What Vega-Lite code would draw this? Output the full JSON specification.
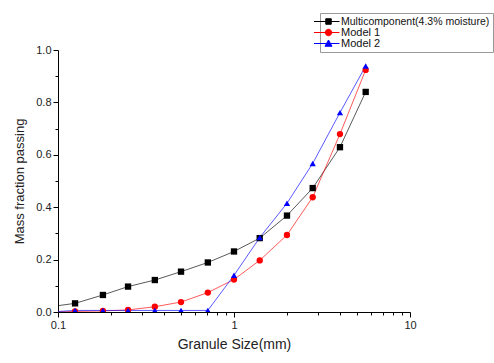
{
  "$schema": "https://vega.github.io/schema/vega-lite/v6.json",
  "width": 352,
  "height": 262,
  "autosize": "none",
  "padding": {"left": 58, "top": 50, "right": 84, "bottom": 51},
  "background": "white",
  "data": {
    "values": [
      {"series": "Multicomponent(4.3% moisture)", "size": 0.09, "frac": 0.02},
      {"series": "Multicomponent(4.3% moisture)", "size": 0.125, "frac": 0.033},
      {"series": "Multicomponent(4.3% moisture)", "size": 0.18, "frac": 0.065},
      {"series": "Multicomponent(4.3% moisture)", "size": 0.25, "frac": 0.097},
      {"series": "Multicomponent(4.3% moisture)", "size": 0.355, "frac": 0.122},
      {"series": "Multicomponent(4.3% moisture)", "size": 0.5, "frac": 0.154},
      {"series": "Multicomponent(4.3% moisture)", "size": 0.71, "frac": 0.189},
      {"series": "Multicomponent(4.3% moisture)", "size": 1.0, "frac": 0.231},
      {"series": "Multicomponent(4.3% moisture)", "size": 1.4, "frac": 0.282},
      {"series": "Multicomponent(4.3% moisture)", "size": 2.0, "frac": 0.368},
      {"series": "Multicomponent(4.3% moisture)", "size": 2.8, "frac": 0.473},
      {"series": "Multicomponent(4.3% moisture)", "size": 4.0, "frac": 0.629},
      {"series": "Multicomponent(4.3% moisture)", "size": 5.6, "frac": 0.84},
      {"series": "Model 1", "size": 0.09, "frac": 0.0},
      {"series": "Model 1", "size": 0.125, "frac": 0.002},
      {"series": "Model 1", "size": 0.18, "frac": 0.004},
      {"series": "Model 1", "size": 0.25, "frac": 0.008},
      {"series": "Model 1", "size": 0.355, "frac": 0.02},
      {"series": "Model 1", "size": 0.5, "frac": 0.038},
      {"series": "Model 1", "size": 0.71, "frac": 0.074},
      {"series": "Model 1", "size": 1.0, "frac": 0.124},
      {"series": "Model 1", "size": 1.4, "frac": 0.197},
      {"series": "Model 1", "size": 2.0, "frac": 0.294},
      {"series": "Model 1", "size": 2.8, "frac": 0.438},
      {"series": "Model 1", "size": 4.0, "frac": 0.679},
      {"series": "Model 1", "size": 5.6, "frac": 0.924},
      {"series": "Model 2", "size": 0.09, "frac": 0.0},
      {"series": "Model 2", "size": 0.125, "frac": 0.006},
      {"series": "Model 2", "size": 0.18, "frac": 0.006},
      {"series": "Model 2", "size": 0.25, "frac": 0.006},
      {"series": "Model 2", "size": 0.355, "frac": 0.006},
      {"series": "Model 2", "size": 0.5, "frac": 0.006},
      {"series": "Model 2", "size": 0.71, "frac": 0.006},
      {"series": "Model 2", "size": 1.0, "frac": 0.14},
      {"series": "Model 2", "size": 1.4, "frac": 0.284},
      {"series": "Model 2", "size": 2.0, "frac": 0.415},
      {"series": "Model 2", "size": 2.8, "frac": 0.567},
      {"series": "Model 2", "size": 4.0, "frac": 0.761},
      {"series": "Model 2", "size": 5.6, "frac": 0.939}
    ]
  },
  "encoding": {
    "x": {
      "field": "size",
      "type": "quantitative",
      "scale": {"type": "log", "domain": [0.1, 10], "nice": false},
      "axis": {
        "title": "Granule Size(mm)",
        "titleFontSize": 14,
        "titlePadding": 7,
        "values": [0.1, 0.2, 0.3, 0.4, 0.5, 0.6, 0.7, 0.8, 0.9, 1, 2, 3, 4, 5, 6, 7, 8, 9, 10],
        "labelExpr": "datum.value == 0.1 ? '0.1' : datum.value == 1 ? '1' : datum.value == 10 ? '10' : ''",
        "tickSize": {"condition": {"test": "datum.value == 0.1 || datum.value == 1 || datum.value == 10", "value": 5}, "value": 3},
        "labelPadding": 2
      }
    },
    "y": {
      "field": "frac",
      "type": "quantitative",
      "scale": {"domain": [0, 1], "nice": false, "zero": false},
      "axis": {
        "title": "Mass fraction passing",
        "titlePadding": 9,
        "values": [0, 0.1, 0.2, 0.3, 0.4, 0.5, 0.6, 0.7, 0.8, 0.9, 1],
        "labelExpr": "indexof([0, 0.2, 0.4, 0.6, 0.8, 1], datum.value) >= 0 ? format(datum.value, '.1f') : ''",
        "tickSize": {"condition": {"test": "indexof([0, 0.2, 0.4, 0.6, 0.8, 1], datum.value) >= 0", "value": 5}, "value": 3},
        "labelPadding": 2
      }
    }
  },
  "layer": [
    {
      "mark": {"type": "point", "filled": true, "opacity": 0, "clip": true},
      "encoding": {
        "shape": {
          "field": "series",
          "type": "nominal",
          "scale": {
            "domain": ["Multicomponent(4.3% moisture)", "Model 1", "Model 2"],
            "range": [
              "M-2.9,0H2.2M-0.55,-0.55H0.55V0.55H-0.55Z",
              "M-2.9,0H2.2M-0.65,0A0.65,0.65,0,1,0,0.65,0A0.65,0.65,0,1,0,-0.65,0Z",
              "M-2.9,0H2.2M0,-0.7L0.7,0.55L-0.7,0.55Z"
            ]
          },
          "legend": {
            "title": null,
            "orient": "none",
            "legendX": 262,
            "legendY": -37,
            "strokeColor": "#999999",
            "fillColor": "#ffffff",
            "padding": 3,
            "labelFontSize": {"expr": "datum.value == 'Multicomponent(4.3% moisture)' ? 10.5 : 11"},
            "encode": {
              "legend": {
                "stroke": {"value": "#999999"},
                "strokeWidth": {"value": 1},
                "fill": {"value": "#ffffff"}
              },
              "symbols": {
                "fill": {"condition": [{"test": "datum.value == 'Model 1'", "value": "#ff0000"}, {"test": "datum.value == 'Model 2'", "value": "#0000ff"}], "value": "#000000"},
                "stroke": {"condition": [{"test": "datum.value == 'Model 1'", "value": "#ff6666"}, {"test": "datum.value == 'Model 2'", "value": "#6666ff"}], "value": "#444444"},
                "strokeWidth": {"value": 1},
                "opacity": {"value": 1}
              }
            }
          }
        }
      }
    },
    {
      "mark": {"type": "line", "clip": true, "strokeWidth": 1, "opacity": 0.65},
      "encoding": {
        "color": {
          "field": "series",
          "type": "nominal",
          "scale": {"domain": ["Multicomponent(4.3% moisture)", "Model 1", "Model 2"], "range": ["#000000", "#ff0000", "#0000ff"]},
          "legend": null
        }
      }
    },
    {
      "transform": [{"filter": "datum.series == 'Multicomponent(4.3% moisture)'"}],
      "mark": {"type": "point", "clip": true, "filled": true, "opacity": 1, "size": 40, "shape": "square"},
      "encoding": {
        "color": {"field": "series", "type": "nominal", "legend": null}
      }
    },
    {
      "transform": [{"filter": "datum.series == 'Model 1'"}],
      "mark": {"type": "point", "clip": true, "filled": true, "opacity": 1, "size": 40, "shape": "circle"},
      "encoding": {
        "color": {"field": "series", "type": "nominal", "legend": null}
      }
    },
    {
      "transform": [{"filter": "datum.series == 'Model 2'"}],
      "mark": {"type": "point", "clip": true, "filled": true, "opacity": 1, "size": 40, "shape": "triangle-up"},
      "encoding": {
        "color": {"field": "series", "type": "nominal", "legend": null}
      }
    }
  ],
  "config": {
    "view": {"stroke": null},
    "font": "Liberation Sans",
    "axis": {
      "grid": false,
      "domainColor": "#000000",
      "tickColor": "#000000",
      "labelColor": "#222222",
      "titleColor": "#222222",
      "labelFont": "Liberation Sans",
      "titleFont": "Liberation Sans",
      "labelFontSize": 11,
      "titleFontSize": 13,
      "titleFontWeight": "normal",
      "labelOverlap": false,
      "labelFlush": false
    },
    "legend": {
      "rowPadding": -1,
      "symbolSize": 100,
      "symbolStrokeWidth": 1,
      "labelOffset": 7,
      "labelFont": "Liberation Sans",
      "labelColor": "#111111",
      "labelLimit": 300,
      "labelBaseline": "middle"
    }
  }
}
